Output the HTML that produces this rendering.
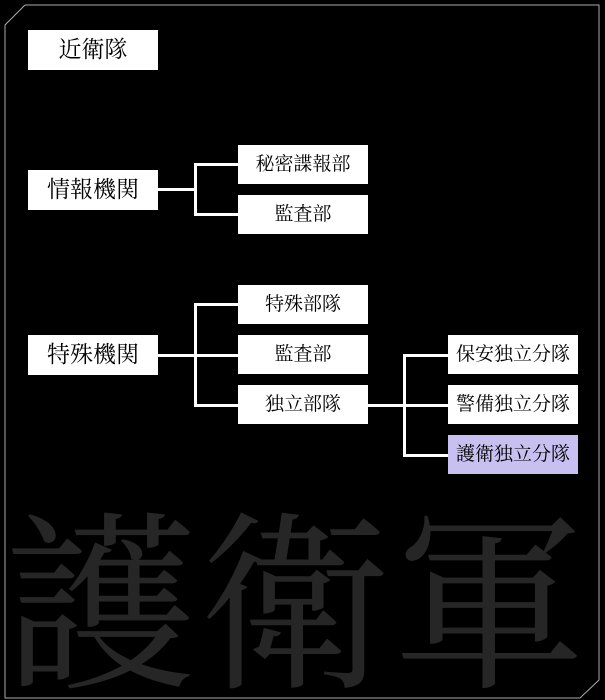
<!DOCTYPE html>
<html style="height:700px;overflow:hidden"><head><meta charset="utf-8"><style>
body{margin:0;background:#000;width:605px;height:700px;position:relative;overflow:hidden;font-family:"Liberation Serif","Noto Serif CJK SC",serif}
.b{position:absolute;background:#fff;color:#000;text-align:center;font-size:19px;height:39px;line-height:39px;width:130px}
.m{font-size:23px;height:40px;line-height:40px}
.l{position:absolute;background:#fff}
.bg{position:absolute;left:5px;top:490px;font-size:192px;line-height:200px;color:#262626;letter-spacing:2px;white-space:nowrap;font-family:"Noto Serif CJK SC",serif}
</style></head><body>
<svg style="position:absolute;left:0;top:0" width="605" height="700"><polyline points="25,5 599,5 599,680 580,698 5,698 5,25 25,5" fill="none" stroke="#aaa" stroke-width="1"/></svg>
<div class="bg">護衛軍</div>
<div class="b m" style="left:28px;top:30px">近衛隊</div>
<div class="b m" style="left:28px;top:170px">情報機関</div>
<div class="b" style="left:238px;top:145px">秘密諜報部</div>
<div class="b" style="left:238px;top:195px">監査部</div>
<div class="l" style="left:158px;top:188px;width:37px;height:3px"></div>
<div class="l" style="left:194px;top:163px;width:3px;height:52px"></div>
<div class="l" style="left:194px;top:163px;width:44px;height:3px"></div>
<div class="l" style="left:194px;top:213px;width:44px;height:3px"></div>
<div class="b m" style="left:28px;top:335px">特殊機関</div>
<div class="b" style="left:238px;top:285px">特殊部隊</div>
<div class="b" style="left:238px;top:335px">監査部</div>
<div class="b" style="left:238px;top:385px">独立部隊</div>
<div class="l" style="left:158px;top:354px;width:80px;height:3px"></div>
<div class="l" style="left:194px;top:303px;width:3px;height:104px"></div>
<div class="l" style="left:194px;top:303px;width:44px;height:3px"></div>
<div class="l" style="left:194px;top:404px;width:44px;height:3px"></div>
<div class="b" style="left:448px;top:335px">保安独立分隊</div>
<div class="b" style="left:448px;top:385px">警備独立分隊</div>
<div class="b" style="left:448px;top:435px;background:#c8c0f0">護衛独立分隊</div>
<div class="l" style="left:368px;top:404px;width:80px;height:3px"></div>
<div class="l" style="left:403px;top:354px;width:3px;height:103px"></div>
<div class="l" style="left:403px;top:354px;width:45px;height:3px"></div>
<div class="l" style="left:403px;top:454px;width:45px;height:3px"></div>
</body></html>
